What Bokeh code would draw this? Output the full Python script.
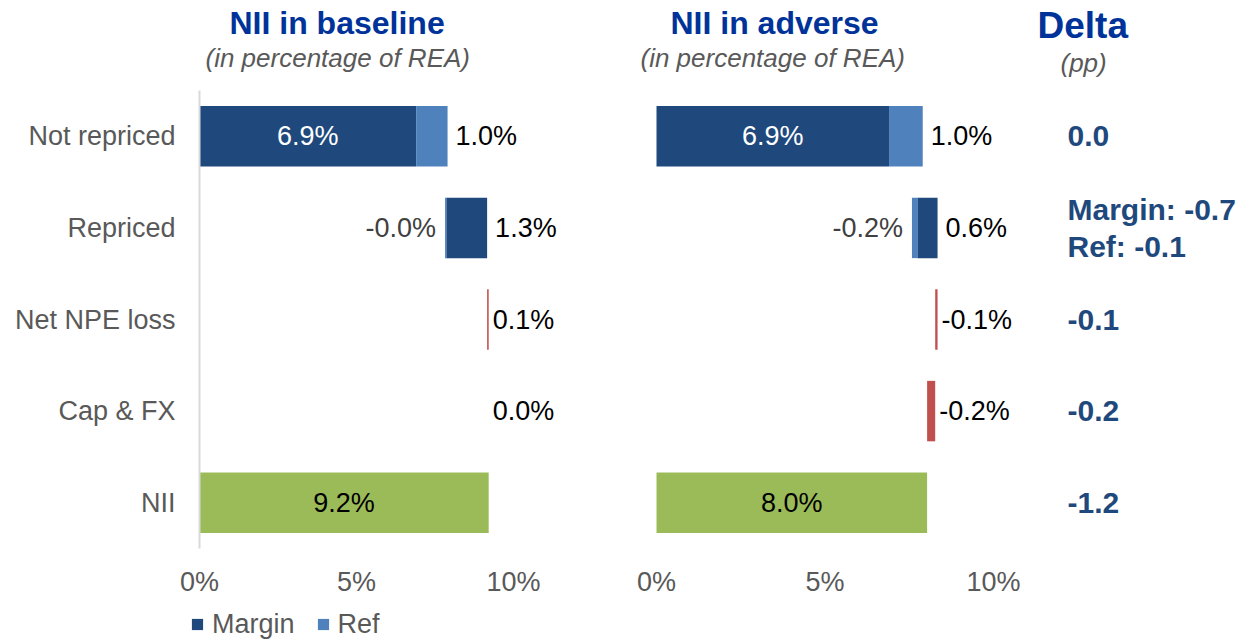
from bokeh.plotting import figure
from bokeh.layouts import row, column
from bokeh.models import (ColumnDataSource, Range1d, FactorRange, Title, FixedTicker,
                          PrintfTickFormatter, Legend, LegendItem)
from bokeh.core.properties import value
from bokeh.embed import file_html
from bokeh.resources import INLINE

# ---------------- data (in % of REA) ----------------
categories = ["Not repriced", "Repriced", "Net NPE loss", "Cap & FX", "NII"]
x_ticks = [0, 5, 10]
legend_labels = ["Margin", "Ref"]

# [Not repriced, Repriced]
base_margin = [6.9, 1.3]
base_ref = [1.0, -0.04]
base_npe = 0.05
base_capfx = 0.0

adv_margin = [6.9, 0.6]
adv_ref = [1.0, -0.16]
adv_npe = -0.07
adv_capfx = -0.24

# ---------------- styles ----------------
DARK, LIGHT, RED, GREEN = "#1F497D", "#4F81BD", "#C0504D", "#9BBB59"
TITLE_BLUE, DELTA_BLUE, GREY, LABEL_GREY = "#003399", "#1F497D", "#595959", "#404040"
FONT = "Liberation Sans"
H = 608          # chart row height; legend strip below takes the rest of the 640px
LEG_H = 32
TOP, BOTTOM = 90, 60


def build(margin, ref, npe, capfx):
    bars = {k: dict(y=[], left=[], right=[]) for k in ("margin", "ref", "other", "total")}
    lab = {a: dict(y=[], x=[], text=[], color=[], xoff=[]) for a in ("left", "right", "center")}

    def bar(k, cat, a, b):
        bars[k]["y"].append(cat); bars[k]["left"].append(a); bars[k]["right"].append(b)

    def label(align, cat, x, v, color, off):
        d = lab[align]
        d["y"].append(cat); d["x"].append(x); d["text"].append(f"{v:.1f}%")
        d["color"].append(color); d["xoff"].append(off)

    c0, c1, c2, c3, c4 = categories
    bar("margin", c0, 0, margin[0])
    bar("ref", c0, margin[0], margin[0] + ref[0])
    label("center", c0, margin[0] / 2, margin[0], "white", 0)
    label("left", c0, margin[0] + ref[0], ref[0], "black", 8)
    cum = margin[0] + ref[0]
    start = cum + ref[1]
    bar("ref", c1, start - abs(ref[1]), start)
    bar("margin", c1, start, start + margin[1])
    label("right", c1, start - abs(ref[1]), ref[1], LABEL_GREY, -9)
    label("left", c1, start + margin[1], margin[1], "black", 8)
    cum = start + margin[1]
    for cat, v in ((c2, npe), (c3, capfx)):
        if v != 0:
            bar("other", cat, min(cum, cum + v), max(cum, cum + v))
        label("left", cat, max(cum, cum + v), v, "black", 4)
        cum += v
    bar("total", c4, 0, cum)
    label("center", c4, cum / 2, cum, "black", 0)
    return bars, lab, cum


def headings(p, gap, title, title_x, title_size, sub, sub_x):
    # blank 1px title used only as a spacer between the frame and the headings
    p.add_layout(Title(text=" ", text_font_size="1px", standoff=gap - 3), "above")
    p.add_layout(Title(text=sub, align="left", offset=sub_x, standoff=0,
                       text_font=FONT, text_font_style="italic", text_font_size="26px",
                       text_color=GREY), "above")
    p.add_layout(Title(text=title, align="left", offset=title_x, standoff=0,
                       text_font=FONT, text_font_style="bold", text_font_size=title_size,
                       text_color=TITLE_BLUE), "above")


def panel(width, x_range, min_left, title, title_x, sub_x, margin, ref, npe, capfx, show_y):
    p = figure(width=width, height=H, x_range=x_range, y_range=FactorRange(factors=categories[::-1]),
               output_backend="svg", toolbar_location=None, title=None,
               min_border_left=min_left, min_border_right=0,
               min_border_top=TOP, min_border_bottom=BOTTOM)
    p.outline_line_color = None
    headings(p, 18, title, title_x, "32px", "(in percentage of REA)", sub_x)
    bars, lab, total = build(margin, ref, npe, capfx)
    for k, col in (("margin", DARK), ("ref", LIGHT), ("other", RED), ("total", GREEN)):
        p.hbar(y="y", left="left", right="right", height=0.66, fill_color=col,
               line_color=None, source=ColumnDataSource(bars[k]))
    for align, d in lab.items():
        p.text(x="x", y="y", text="text", text_color="color", x_offset="xoff",
               text_align=align, text_baseline="middle", text_font=value(FONT),
               text_font_size="27px", source=ColumnDataSource(d))
    p.xgrid.visible = False
    p.ygrid.visible = False
    xa = p.below[0]
    xa.ticker = FixedTicker(ticks=x_ticks)
    xa.formatter = PrintfTickFormatter(format="%d%%")
    xa.axis_line_color = None
    xa.major_tick_line_color = None
    xa.minor_tick_line_color = None
    xa.major_tick_out = 0
    xa.major_label_standoff = 18
    xa.major_label_text_font = FONT
    xa.major_label_text_font_size = "27px"
    xa.major_label_text_color = GREY
    ya = p.left[0]
    if show_y:
        ya.axis_line_color = "#D9D9D9"
        ya.axis_line_width = 2
        ya.major_tick_line_color = None
        ya.minor_tick_line_color = None
        ya.major_tick_out = 0
        ya.major_label_standoff = 24
        ya.major_label_text_font = FONT
        ya.major_label_text_font_size = "27px"
        ya.major_label_text_color = GREY
    else:
        ya.visible = False
    return p, total


# baseline panel: 0% at x=199, 31.4 px per pp
p1, base_total = panel(600, Range1d(0, 401 / 31.4), 199, "NII in baseline", 30, 6,
                       base_margin, base_ref, base_npe, base_capfx, True)
# adverse panel: 0% at x=656, 33.7 px per pp
p2, adv_total = panel(430, Range1d(-56 / 33.7, (430 - 56) / 33.7), 0, "NII in adverse", 70, 40,
                      adv_margin, adv_ref, adv_npe, adv_capfx, False)

# delta column
delta_vals = [
    f"{(adv_margin[0] + adv_ref[0]) - (base_margin[0] + base_ref[0]):.1f}",
    f"Margin: {adv_margin[1] - base_margin[1]:.1f}\nRef: {adv_ref[1] - base_ref[1]:.1f}",
    f"{adv_npe - base_npe:.1f}",
    f"{adv_capfx - base_capfx:.1f}",
    f"{adv_total - base_total:.1f}",
]
p3 = figure(width=217, height=H, x_range=Range1d(0, 217), y_range=FactorRange(factors=categories[::-1]),
            output_backend="svg", toolbar_location=None, title=None,
            min_border_left=0, min_border_right=0, min_border_top=TOP, min_border_bottom=BOTTOM)
p3.outline_line_color = None
headings(p3, 13, "Delta", 7, "37px", "(pp)", 30)
p3.text(x=37, y="y", text="text", source=ColumnDataSource(dict(y=categories, text=delta_vals)),
        text_align="left", text_baseline="middle", text_font=value(FONT), text_font_style="bold",
        text_font_size="30px", text_color=DELTA_BLUE, text_line_height=1.1)
p3.below[0].visible = False
p3.left[0].visible = False
p3.grid.visible = False

# legend strip under the baseline panel (swatch renderers sit outside the visible range)
pl = figure(width=600, height=LEG_H, x_range=Range1d(0, 1), y_range=Range1d(0, 1),
            output_backend="svg", toolbar_location=None, title=None,
            min_border_left=0, min_border_right=0, min_border_top=0, min_border_bottom=0)
pl.outline_line_color = None
pl.xaxis.visible = False
pl.yaxis.visible = False
pl.grid.visible = False
items = []
for lbl, col in zip(legend_labels, (DARK, LIGHT)):
    r = pl.hbar(y=[-5], left=[0], right=[1], height=1, fill_color=col, line_color=None)
    items.append(LegendItem(label=lbl, renderers=[r]))
pl.add_layout(Legend(items=items, orientation="horizontal", location=(190, 0),
                     glyph_width=14, glyph_height=14, label_height=LEG_H, label_standoff=8,
                     spacing=21, padding=0, margin=0, border_line_color=None,
                     background_fill_alpha=0, label_text_font=FONT,
                     label_text_font_size="27px", label_text_color=GREY))

layout = column(row(p1, p2, p3), pl)
open("out.html", "w").write(file_html(layout, INLINE))
